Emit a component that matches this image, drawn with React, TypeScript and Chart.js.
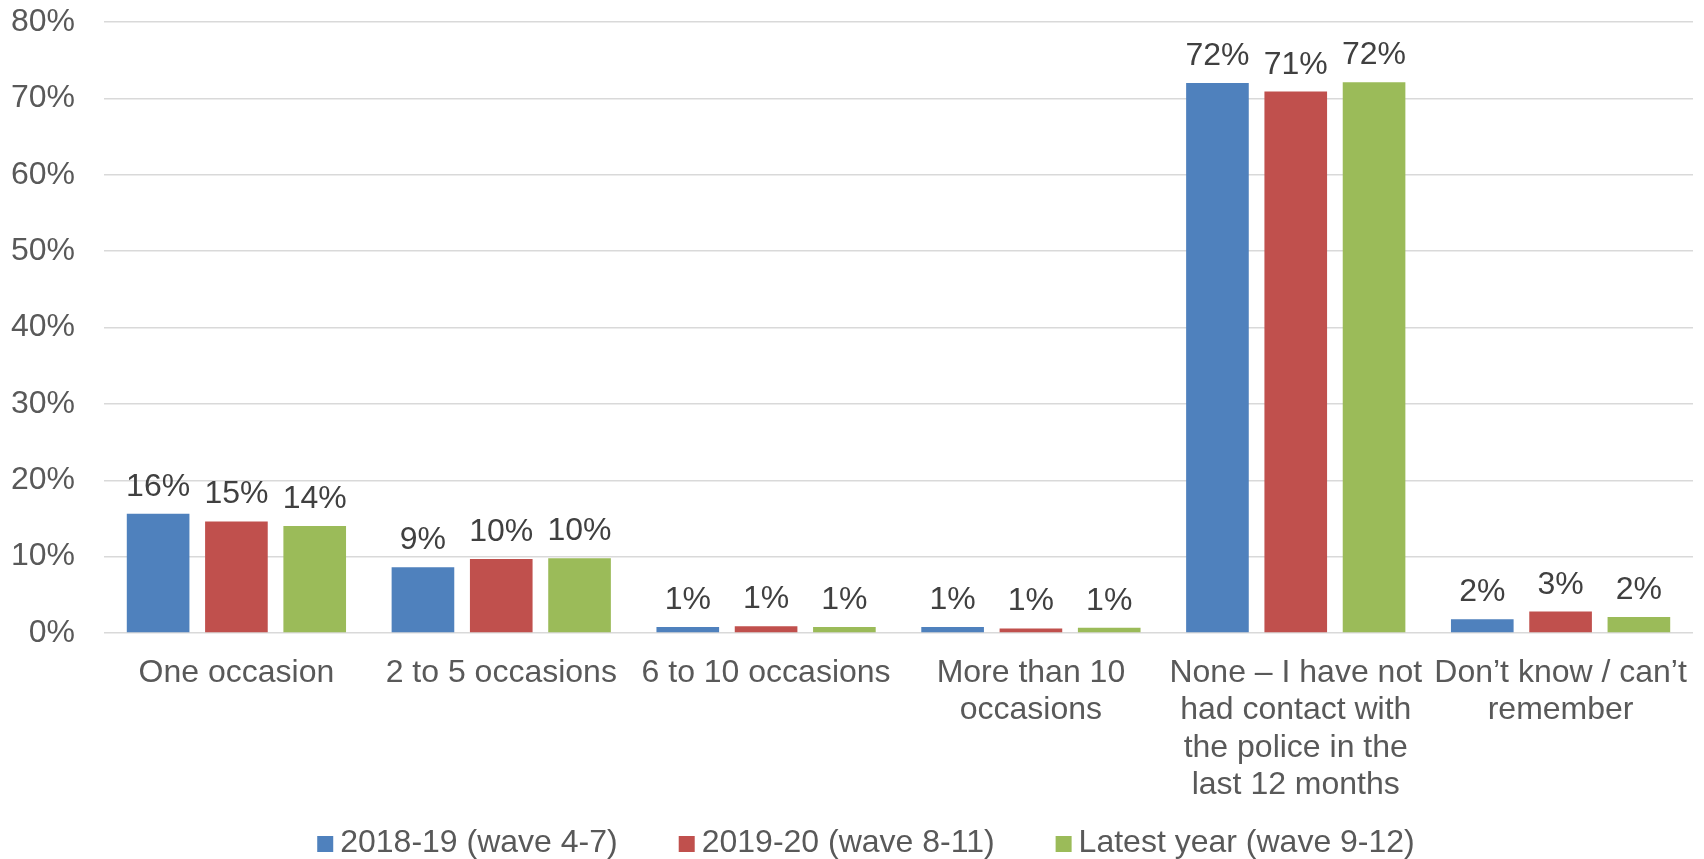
import React, { useEffect, useRef } from 'react';
import { Chart, registerables } from 'chart.js';

Chart.register(...registerables);

const categories: (string | string[])[] = [
  'One occasion',
  '2 to 5 occasions',
  '6 to 10 occasions',
  ['More than 10', 'occasions'],
  ['None – I have not', 'had contact with', 'the police in the', 'last 12 months'],
  ['Don’t know / can’t', 'remember'],
];

const seriesNames = ['2018-19 (wave 4-7)', '2019-20 (wave 8-11)', 'Latest year (wave 9-12)'];
const seriesColors = ['#4F81BD', '#C0504D', '#9BBB59'];

const wave4to7 = [15.6, 8.6, 0.8, 0.8, 72.0, 1.8];
const wave8to11 = [14.6, 9.7, 0.9, 0.6, 70.9, 2.8];
const wave9to12 = [14.0, 9.8, 0.8, 0.7, 72.1, 2.1];

const yMin = 0;
const yMax = 80;
const yStep = 10;

const FONT = "'Liberation Sans', Arial, sans-serif";
const FS = 32;

const dataLabelPlugin = {
  id: 'dataLabels',
  afterDatasetsDraw(chart: any) {
    const ctx = chart.ctx;
    ctx.save();
    ctx.font = `${FS}px ${FONT}`;
    ctx.fillStyle = '#404040';
    ctx.textAlign = 'center';
    ctx.textBaseline = 'alphabetic';
    chart.data.datasets.forEach((ds: any, i: number) => {
      const meta = chart.getDatasetMeta(i);
      meta.data.forEach((el: any, j: number) => {
        const v = ds.data[j];
        ctx.fillText(`${Math.round(v)}%`, el.x, el.y - 18);
      });
    });
    ctx.restore();
  },
};

const legendPlugin = {
  id: 'customLegend',
  afterDraw(chart: any) {
    const ctx = chart.ctx;
    ctx.save();
    ctx.font = `${FS}px ${FONT}`;
    const box = 16;
    const gapBoxText = 7;
    const gapItems = 61;
    const widths = seriesNames.map((n) => ctx.measureText(n).width);
    const total =
      widths.reduce((a, w) => a + box + gapBoxText + w, 0) + gapItems * (seriesNames.length - 1);
    let x = 866 - total / 2;
    const baseline = 852;
    seriesNames.forEach((name, i) => {
      ctx.fillStyle = seriesColors[i];
      ctx.fillRect(x, baseline - box, box, box);
      ctx.fillStyle = '#595959';
      ctx.textAlign = 'left';
      ctx.textBaseline = 'alphabetic';
      ctx.fillText(name, x + box + gapBoxText, baseline);
      x += box + gapBoxText + widths[i] + gapItems;
    });
    ctx.restore();
  },
};

export default function App() {
  const canvasRef = useRef<HTMLCanvasElement | null>(null);

  useEffect(() => {
    if (!canvasRef.current) return;
    const seriesValues = [wave4to7, wave8to11, wave9to12];
    const chart = new Chart(canvasRef.current, {
      type: 'bar',
      data: {
        labels: categories as any,
        datasets: seriesValues.map((vals, i) => ({
          label: seriesNames[i],
          data: vals,
          backgroundColor: seriesColors[i],
          borderWidth: 0,
          barPercentage: 0.8,
          categoryPercentage: 0.887,
        })),
      },
      options: {
        animation: false,
        responsive: true,
        maintainAspectRatio: false,
        layout: { padding: { top: 22, right: 11, left: 0, bottom: 0 } },
        plugins: {
          legend: { display: false },
          tooltip: { enabled: false },
        },
        scales: {
          x: {
            grid: { display: false, drawTicks: false },
            border: { display: false },
            ticks: {
              color: '#595959',
              font: { family: FONT, size: FS, lineHeight: 1.172 },
              padding: 21,
              maxRotation: 0,
              autoSkip: false,
            },
            afterFit(scale: any) {
              scale.height = 226;
              scale.paddingLeft = 0;
              scale.paddingRight = 0;
            },
          },
          y: {
            min: yMin,
            max: yMax,
            grid: { color: '#D9D9D9', lineWidth: 1.5, drawTicks: false },
            border: { display: false },
            ticks: {
              stepSize: yStep,
              color: '#595959',
              font: { family: FONT, size: FS },
              padding: 29,
              callback: (v: any) => `${v}%`,
            },
            afterFit(scale: any) {
              scale.width = 104;
              scale.paddingTop = 0;
              scale.paddingBottom = 0;
            },
          },
        },
      },
      plugins: [dataLabelPlugin, legendPlugin],
    });
    return () => chart.destroy();
  }, []);

  return (
    <div
      style={{
        position: 'fixed',
        left: 0,
        top: 0,
        width: 1704,
        height: 859,
        background: '#ffffff',
      }}
    >
      <canvas ref={canvasRef} />
    </div>
  );
}
